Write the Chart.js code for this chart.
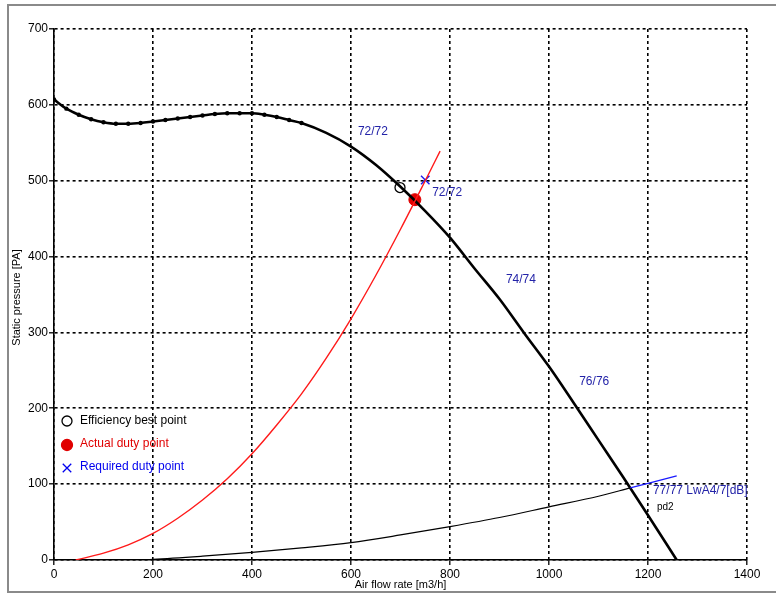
<!DOCTYPE html>
<html>
<head>
<meta charset="utf-8">
<script src="https://cdn.jsdelivr.net/npm/chart.js@4/dist/chart.umd.min.js"></script>
<style>
  html, body { margin: 0; padding: 0; background: #fff; }
  canvas { display: block; }
</style>
</head>
<body>
<canvas id="grafico" width="776" height="594"></canvas>
<script>
// curva del ventilador (presion estatica vs caudal)
const fanX = [0, 25, 50, 75, 100, 125, 150, 175, 200, 225, 250, 275, 300, 325, 350, 375, 400, 425, 450, 475, 500,
              550, 600, 650, 700, 750, 800, 850, 900, 950, 1000, 1050, 1100, 1150, 1200, 1258];
const fanY = [607, 595, 587, 581, 577, 575, 575, 576, 578, 580, 582, 584, 586, 588, 589, 589, 589, 587, 584, 580, 576,
              563, 545, 521, 492, 460, 425, 384, 344, 299, 255, 207, 158, 109, 59, 0];

// curva del sistema (roja)
const sysX = [44, 100, 150, 200, 250, 300, 350, 400, 450, 500, 550, 600, 650, 700, 750, 780];
const sysY = [0, 9, 20, 35, 55, 79, 107, 140, 178, 219, 266, 318, 375, 436, 500, 539];

// curva pd2 (negra fina) y su tramo azul
const pdX = [147, 200, 300, 400, 500, 600, 700, 800, 900, 1000, 1100, 1164];
const pdY = [0, 1, 5, 10, 16, 23, 33, 44, 56, 70, 84, 95];
const blueX = [1164, 1200, 1258];
const blueY = [95, 101, 111];

// puntos de trabajo
const bestPoint = [699, 491];
const actualPoint = [729, 475];
const requiredPoint = [750, 501];

// etiquetas de ruido
const noiseLabels = ["72/72", "72/72", "74/74", "76/76", "77/77 LwA4/7[dB]"];
const noiseX = [614, 764, 913, 1061, 1210];
const noiseY = [564, 484, 369, 235, 92];

const xTicks = [0, 200, 400, 600, 800, 1000, 1200, 1400];
const yTicks = [0, 100, 200, 300, 400, 500, 600, 700];

const legendItems = ["Efficiency best point", "Actual duty point", "Required duty point"];

const FONT = "'Liberation Sans', Arial, sans-serif";

function toPoints(xs, ys) {
    return xs.map((x, i) => ({ x: x, y: ys[i] }));
}

// marco gris, titulos, leyenda y etiquetas
const decoraciones = {
    id: "decoraciones",
    beforeDraw(chart) {
        const ctx = chart.ctx;
        ctx.save();
        ctx.fillStyle = "#fff";
        ctx.fillRect(0, 0, chart.width, chart.height);
        ctx.strokeStyle = "#8a8a8a";
        ctx.lineWidth = 2;
        ctx.strokeRect(8, 5, 800, 587);
        ctx.restore();
    },
    afterDraw(chart) {
        const ctx = chart.ctx;
        const xs = chart.scales.x;
        const ys = chart.scales.y;
        ctx.save();

        // titulos de los ejes
        ctx.fillStyle = "#000";
        ctx.font = "11px " + FONT;
        ctx.textAlign = "center";
        ctx.textBaseline = "middle";
        ctx.fillText("Air flow rate [m3/h]", (chart.chartArea.left + chart.chartArea.right) / 2, 585);
        ctx.save();
        ctx.translate(17, (chart.chartArea.top + chart.chartArea.bottom) / 2 + 3);
        ctx.rotate(-Math.PI / 2);
        ctx.fillText("Static pressure [PA]", 0, 0);
        ctx.restore();

        // etiquetas de ruido
        ctx.font = "12px " + FONT;
        ctx.textAlign = "left";
        ctx.fillStyle = "#2323a8";
        noiseLabels.forEach((t, i) => {
            ctx.fillText(t, xs.getPixelForValue(noiseX[i]), ys.getPixelForValue(noiseY[i]));
        });
        ctx.fillStyle = "#000";
        ctx.font = "10px " + FONT;
        ctx.fillText("pd2", xs.getPixelForValue(1218), ys.getPixelForValue(69));

        // leyenda
        const lx = 67, tx = 80;
        const rows = [421, 444, 467];
        const colores = ["#000", "#e00000", "#0000ee"];
        ctx.font = "12px " + FONT;
        legendItems.forEach((t, i) => {
            ctx.fillStyle = colores[i];
            ctx.fillText(t, tx, rows[i]);
        });
        ctx.lineWidth = 1.3;
        ctx.strokeStyle = "#000";
        ctx.fillStyle = "#fff";
        Chart.helpers.drawPoint(ctx, { pointStyle: "circle", radius: 5, borderWidth: 1.3 }, lx, rows[0]);
        ctx.fillStyle = "#e00000";
        ctx.strokeStyle = "#e00000";
        Chart.helpers.drawPoint(ctx, { pointStyle: "circle", radius: 5.5, borderWidth: 1 }, lx, rows[1] + 1);
        ctx.strokeStyle = "#0000ee";
        Chart.helpers.drawPoint(ctx, { pointStyle: "crossRot", radius: 6, borderWidth: 1.3 }, lx, rows[2] + 1);

        ctx.restore();
    }
};

new Chart(document.getElementById("grafico"), {
    type: "scatter",
    data: {
        datasets: [
            {
                label: "pd2",
                data: toPoints(pdX, pdY),
                showLine: true,
                borderColor: "#000",
                borderWidth: 1.2,
                pointRadius: 0,
                cubicInterpolationMode: "monotone"
            },
            {
                label: "pd2 azul",
                data: toPoints(blueX, blueY),
                showLine: true,
                borderColor: "#1a1aff",
                borderWidth: 1.3,
                pointRadius: 0
            },
            {
                label: "Sistema",
                data: toPoints(sysX, sysY),
                showLine: true,
                borderColor: "#ff1a1a",
                borderWidth: 1.4,
                pointRadius: 0,
                cubicInterpolationMode: "monotone"
            },
            {
                label: "Ventilador",
                data: toPoints(fanX, fanY),
                showLine: true,
                borderColor: "#000",
                borderWidth: 2.6,
                pointRadius: ctx => (ctx.raw && ctx.raw.x <= 500 ? 2.2 : 0),
                pointBackgroundColor: "#000",
                pointBorderWidth: 0,
                cubicInterpolationMode: "monotone"
            },
            {
                label: "Efficiency best point",
                data: [{ x: bestPoint[0], y: bestPoint[1] }],
                pointRadius: 5,
                pointBackgroundColor: "#fff",
                pointBorderColor: "#000",
                pointBorderWidth: 1.3
            },
            {
                label: "Actual duty point",
                data: [{ x: actualPoint[0], y: actualPoint[1] }],
                pointRadius: 6,
                pointBackgroundColor: "#e00000",
                pointBorderColor: "#e00000",
                pointBorderWidth: 1
            },
            {
                label: "Required duty point",
                data: [{ x: requiredPoint[0], y: requiredPoint[1] }],
                pointStyle: "crossRot",
                pointRadius: 6,
                pointBorderColor: "#1a1aee",
                pointBorderWidth: 1.4
            }
        ]
    },
    options: {
        responsive: false,
        animation: false,
        devicePixelRatio: 1,
        layout: { padding: { left: 0, top: 29, right: 29, bottom: 0 } },
        plugins: {
            legend: { display: false },
            tooltip: { enabled: false }
        },
        scales: {
            x: {
                type: "linear",
                min: 0,
                max: 1400,
                afterBuildTicks: scale => { scale.ticks = xTicks.map(v => ({ value: v })); },
                afterFit: scale => { scale.height = 34; },
                ticks: {
                    color: "#000",
                    font: { family: FONT, size: 12 },
                    padding: 2,
                    maxRotation: 0,
                    callback: v => String(v)
                },
                grid: { color: "#000", lineWidth: 1.6, tickLength: 5, tickColor: "#000", tickWidth: 1.3 },
                border: { color: "#000", width: 1.6, dash: [3, 3] }
            },
            y: {
                type: "linear",
                min: 0,
                max: 700,
                afterBuildTicks: scale => { scale.ticks = yTicks.map(v => ({ value: v })); },
                afterFit: scale => { scale.width = 54; },
                ticks: {
                    color: "#000",
                    font: { family: FONT, size: 12 },
                    padding: 1,
                    callback: v => String(v)
                },
                grid: { color: "#000", lineWidth: 1.6, tickLength: 5, tickColor: "#000", tickWidth: 1.3 },
                border: { color: "#000", width: 1.6, dash: [3, 3] }
            }
        }
    },
    plugins: [decoraciones]
});
</script>
</body>
</html>
